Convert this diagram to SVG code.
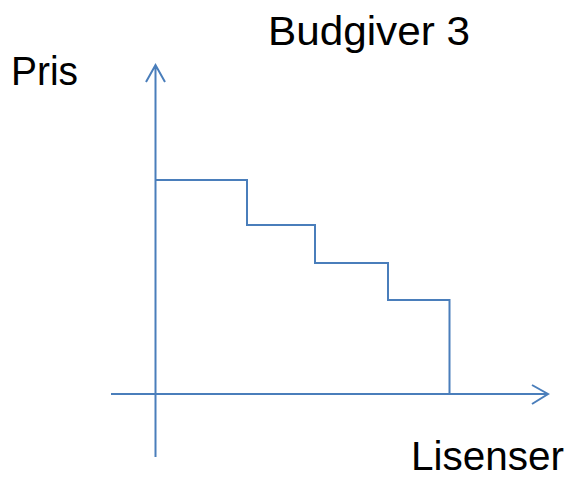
<svg xmlns="http://www.w3.org/2000/svg" width="570" height="477" viewBox="0 0 570 477">
<style>
.ln{fill:none;stroke:#4a7ebb;stroke-width:2;stroke-linecap:butt;stroke-linejoin:miter}
.t{font-family:"Liberation Sans",Arial,sans-serif;font-size:40px;fill:#000}
</style>
<rect width="570" height="477" fill="#fff"/>
<g id="connectors">
<path class="ln" d="M155.5,457 V65 M146,82 L155.5,65 L165,82"/>
<path class="ln" d="M111,394 H548 M532,385 L548,394 L532,404"/>
<path class="ln" d="M155.5,180 H247 V225 H315 V263 H388 V300 H449.5 V395"/>
</g>
<g id="title"><text class="t" x="268" y="45" textLength="202" lengthAdjust="spacingAndGlyphs">Budgiver 3</text></g>
<g id="ylabel"><text class="t" x="11" y="85" textLength="67" lengthAdjust="spacingAndGlyphs">Pris</text></g>
<g id="xlabel"><text class="t" x="411" y="470" textLength="153" lengthAdjust="spacingAndGlyphs">Lisenser</text></g>
</svg>
